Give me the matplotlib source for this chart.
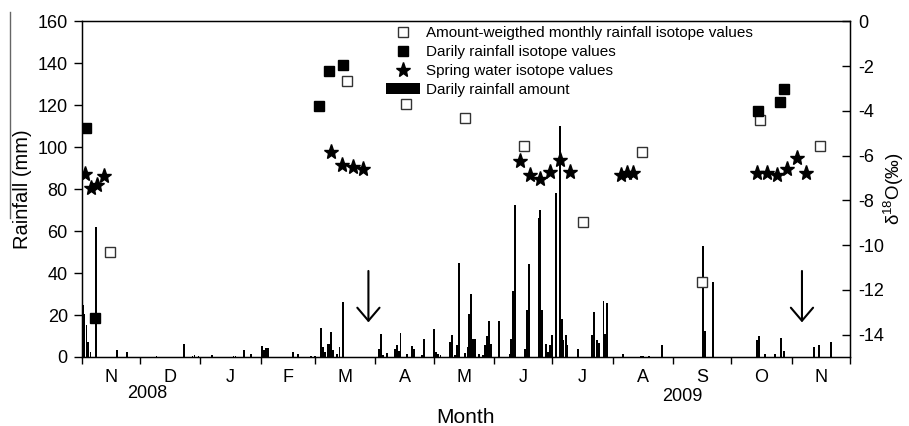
import numpy as np
import matplotlib.pyplot as plt
import matplotlib as mpl
import matplotlib.transforms as mtransforms
from matplotlib.lines import Line2D

# Fonts
plt.rc('font', family='Liberation Sans')
mpl.rcParams['mathtext.fontset'] = 'custom'
mpl.rcParams['mathtext.rm'] = 'Liberation Sans'
mpl.rcParams['axes.unicode_minus'] = False

################################################################################
# Data (x = days since 1 Nov 2008)
rain_day = [0.5, 1.3, 2.5, 3.4, 4.5, 7.2, 18, 23.3, 38.5, 52.6, 57, 58, 60, 66.8,
            78, 79, 83.6, 86.9, 92.8, 93.8, 94.8, 95.8, 108.8, 111.2, 118, 120,
            123.2, 124.2, 125.2, 126.3, 127.2, 128.2, 129.1, 131.4, 132.5, 134.5,
            152.7, 153.7, 155, 157.1, 161, 162, 163, 163.9, 167.1, 169.8, 170.8,
            174.8, 176, 181, 182, 183, 184.5, 189.4, 190.3, 191.9, 193.1, 194.1,
            197.1, 198.3, 199.3, 200.3, 201.3, 202.3, 204.4, 206.2, 207.4, 208.5,
            209.5, 210.4, 214.5, 219.9, 220.8, 221.7, 222.8, 227.9, 228.8, 229.8,
            234.8, 235.7, 236.6, 238.7, 239.8, 240.7, 241.9, 243.8, 245.8, 246.8,
            247.7, 249, 249.8, 255, 262.2, 263.2, 265.1, 266.1, 268.2, 269.2,
            270.2, 278.4, 287.4, 288.5, 291.5, 298.5, 319.6, 320.5, 324.7, 347.2,
            348.1, 351.3, 356.4, 359.4, 361, 376.5, 379, 385.3]
rain_mm = [25, 20.5, 15.3, 7.3, 2.5, 62, 3.2, 2.4, 0.3, 6.4, 0.7, 0.8, 0.5, 1.1,
           0.5, 0.6, 3.2, 1.6, 5.1, 3.2, 4.1, 4.1, 2.4, 1.3, 0.6, 0.5,
           14, 4.8, 2.4, 6.4, 6.2, 11.9, 3.2, 1.6, 4.6, 26.3,
           4, 10.8, 0.8, 1.9, 4, 5.6, 2.9, 11.3, 1.6, 5.4, 4,
           0.8, 8.6, 13.2, 2.4, 1.6, 1.1, 7.2, 10.7, 0.8, 5.6, 44.8,
           1.9, 4.8, 20.3, 30.2, 8.8, 8.8, 1.3, 0.8, 5.8, 10.2,
           17.2, 6, 17, 1.6, 8.8, 31.5, 72.6, 4, 22.6, 44.5,
           66.2, 70, 22.3, 6, 2.4, 5.6, 10.3, 78.3, 110, 18.3,
           8, 10.3, 5.6, 4, 10.3, 21.5, 8, 6.7, 26.5, 11.1,
           25.8, 1.6, 0.6, 0.6, 0.6, 5.9, 53, 12.3, 35.6, 8,
           10, 1.6, 1.6, 9.2, 2.7, 4.8, 5.6, 7]

daily_day = [2.2, 6.8, 122.2, 127.3, 134.2, 347.9, 359.0, 361.2]
daily_d18o = [-4.77, -13.27, -3.78, -2.22, -1.95, -4.01, -3.59, -3.02]

monthly_day = [14.6, 136.6, 166.6, 197.1, 227.6, 257.9, 288.2, 318.8, 348.7, 379.6]
monthly_d18o = [-10.32, -2.67, -3.71, -4.33, -5.57, -8.95, -5.83, -11.66, -4.41, -5.57]

spring_day = [1.7, 4.6, 7.7, 11.5, 128.0, 134.0, 139.3, 144.8, 225.4, 230.5, 235.7,
              240.8, 246.0, 251.1, 277.1, 280.5, 283.6, 347.4, 352.5, 357.4, 362.5,
              367.7, 372.5]
spring_d18o = [-6.84, -7.44, -7.31, -6.91, -5.85, -6.42, -6.50, -6.61, -6.24, -6.88,
               -7.03, -6.73, -6.20, -6.72, -6.87, -6.77, -6.79, -6.79, -6.79, -6.87,
               -6.61, -6.09, -6.79]

arrow_day = [147.4, 370.3]

month_len = [30, 31, 31, 28, 31, 30, 31, 30, 31, 31, 30, 31, 30]
month_lab = ['N', 'D', 'J', 'F', 'M', 'A', 'M', 'J', 'J', 'A', 'S', 'O', 'N']
year_lab = ['2008', '2009']
year_day = [33.6, 308.6]

bounds = np.concatenate([[0], np.cumsum(month_len)])
mids = (bounds[:-1] + bounds[1:]) / 2

################################################################################
fsize = 13
fig = plt.figure(figsize=(9.09, 4.26), dpi=100)
ax = fig.add_axes([0.0899, 0.162, 0.8452, 0.788])

bars = ax.bar(rain_day, rain_mm, width=0.9, color='k', linewidth=0, zorder=2)
ax.set_xlim(0, bounds[-1])
ax.set_ylim(0, 160)
ax.set_yticks(np.arange(0, 161, 20))
ax.set_xticks(bounds)
ax.set_xticklabels([])
ax.set_xticks(mids, minor=True)
ax.set_xticklabels(month_lab, minor=True)
ax.tick_params(axis='x', which='major', direction='out', length=5, width=1)
ax.tick_params(axis='x', which='minor', length=0, pad=9, labelsize=fsize)
ax.tick_params(axis='y', direction='out', length=6, width=1, labelsize=fsize, pad=4)
ax.set_ylabel('Rainfall (mm)', fontsize=14.5)
ax.yaxis.set_label_coords(-0.065, 0.5)
ax.set_xlabel('Month', fontsize=15)
ax.xaxis.set_label_coords(0.5, -0.152)

trans = mtransforms.blended_transform_factory(ax.transData, ax.transAxes)
for d, lab, yy in zip(year_day, year_lab, [-0.11, -0.118]):
    ax.text(d, yy, lab, transform=trans, ha='center', va='center', fontsize=fsize)

for d in arrow_day:
    ax.annotate('', xy=(d, 16.5), xytext=(d, 41),
                arrowprops=dict(arrowstyle='->,head_length=0.47,head_width=0.4',
                                lw=1.5, color='k', mutation_scale=20,
                                shrinkA=0, shrinkB=0))

ax2 = ax.twinx()
ax2.set_ylim(-15, 0)
ax2.set_yticks(np.arange(-14, 1, 2))
ax2.tick_params(axis='y', direction='in', length=6, width=1, labelsize=fsize, pad=6)
h_month, = ax2.plot(monthly_day, monthly_d18o, 's', mfc='white', mec='#333333',
                    mew=1, ms=6.5, ls='none')
h_daily, = ax2.plot(daily_day, daily_d18o, 's', color='k', ms=7.5, ls='none')
h_spring, = ax2.plot(spring_day, spring_d18o, '*', color='k', ms=11, ls='none')
ax2.set_ylabel('δ$^{18}$O(‰)', fontsize=13.5, rotation=90)
ax2.yaxis.set_label_coords(1.040, 0.5)

leg = ax2.legend([h_month, h_daily, h_spring, bars],
                 ['Amount-weigthed monthly rainfall isotope values',
                  'Darily rainfall isotope values',
                  'Spring water isotope values',
                  'Darily rainfall amount'],
                 loc='upper left', bbox_to_anchor=(0.396, 0.986), frameon=False,
                 fontsize=11, handlelength=2.2, handletextpad=0.45,
                 labelspacing=0.33, borderpad=0, borderaxespad=0)

for sp in ax.spines.values():
    sp.set_linewidth(1)

# scan edge line at far left
fig.add_artist(Line2D([10 / 909, 10 / 909], [1 - 12 / 426, 1 - 218 / 426],
                      color='#666666', lw=1))

plt.savefig('out.png', dpi=100)
plt.close()
